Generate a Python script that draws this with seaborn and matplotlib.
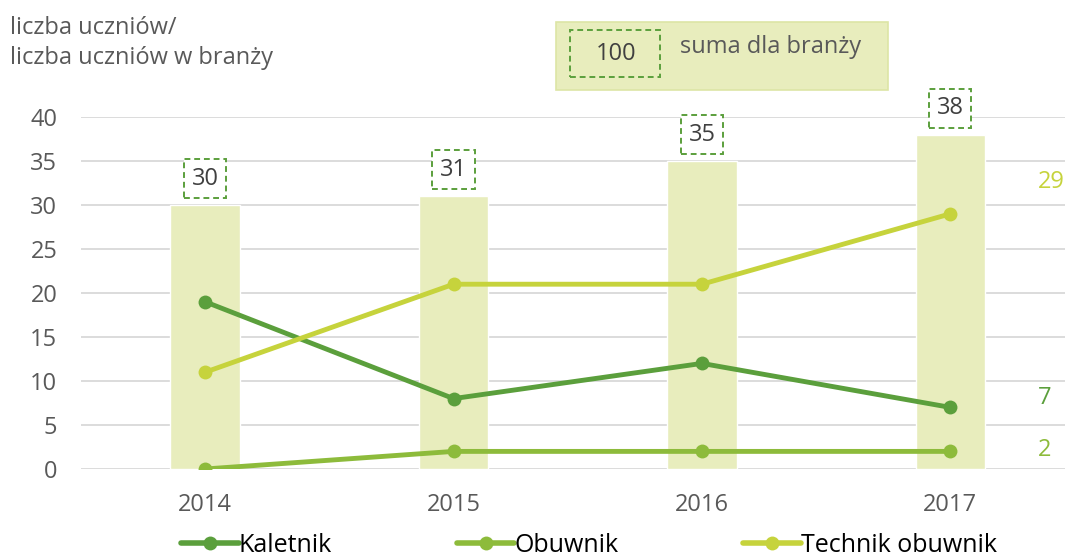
import pandas as pd
import matplotlib.pyplot as plt
import seaborn as sns
from matplotlib.patches import Rectangle
from matplotlib.lines import Line2D

# dane
years = ['2014', '2015', '2016', '2017']
totals = [30, 31, 35, 38]
kaletnik = [19, 8, 12, 7]
obuwnik = [0, 2, 2, 2]
technik = [11, 21, 21, 29]

series_names = ['Kaletnik', 'Obuwnik', 'Technik obuwnik']
series_colors = ['#5b9f3c', '#8dbb3b', '#c6d33c']
bar_color = '#e8edbd'
text_color = '#595959'
FS = 17

sns.set_theme(style='white')
plt.rcParams['font.family'] = ['Open Sans', 'DejaVu Sans']

df_tot = pd.DataFrame({'Rok': years, 'Suma': totals})
df_lines = pd.DataFrame({
    'pos': list(range(len(years))) * 3,
    'Wartość': kaletnik + obuwnik + technik,
    'Zawód': sum([[n] * len(years) for n in series_names], []),
})

fig = plt.figure(figsize=(10.65, 5.58), dpi=100)
ax = fig.add_axes([0.076, 0.1595, 0.933, 0.6308])

sns.barplot(data=df_tot, x='Rok', y='Suma', color=bar_color, width=0.28,
            saturation=1, ax=ax, zorder=1)
sns.lineplot(data=df_lines, x='pos', y='Wartość', hue='Zawód',
             hue_order=series_names, palette=series_colors, marker='o',
             markersize=10, markeredgewidth=0, linewidth=3.5, ax=ax,
             legend=False, zorder=3)

ax.set_xlim(-0.5, 3.5)
ax.set_ylim(0, 40)
ax.set_yticks(range(0, 41, 5))
ax.grid(axis='y', color='#d9d9d9', linewidth=1.3, zorder=0)
ax.set_axisbelow(True)
for s in ax.spines.values():
    s.set_visible(False)
ax.set_xlabel('')
ax.set_ylabel('')
ax.set_xticks(range(len(years)))
ax.set_xticklabels(years)
ax.tick_params(axis='both', length=0, labelsize=FS, labelcolor=text_color)
ax.tick_params(axis='x', pad=17)
ax.tick_params(axis='y', pad=17)

# sumy nad słupkami
for i, t in enumerate(totals):
    ax.annotate(str(t), (i, t), xytext=(0, 19), textcoords='offset points',
                ha='center', va='center', fontsize=FS, color='#404040',
                bbox=dict(boxstyle='square,pad=0.32', fc='white',
                          ec='#5b9f3c', ls=(0, (3, 2)), lw=1.4))

# etykiety końcowe po prawej (przesunięcia jak w oryginale)
for vals, c, dy in zip([kaletnik, obuwnik, technik], series_colors, [7, 1, 23]):
    ax.annotate(str(vals[-1]), (3, vals[-1]), xytext=(63, dy),
                textcoords='offset points', ha='left', va='center',
                fontsize=FS, color=c, annotation_clip=False)

# tytuł osi
fig.text(0.009, 0.972, 'liczba uczniów/\nliczba uczniów w branży', ha='left',
         va='top', fontsize=FS, color=text_color, linespacing=1.35)

# objaśnienie sumy
fig.patches.append(Rectangle((556 / 1065, 1 - 90 / 558), 332 / 1065, 68 / 558,
                             transform=fig.transFigure, fc=bar_color,
                             ec='#dde5a6', lw=1.2))
fig.patches.append(Rectangle((570 / 1065, 1 - 77 / 558), 90 / 1065, 47 / 558,
                             transform=fig.transFigure, fc='none',
                             ec='#5b9f3c', ls=(0, (3, 2)), lw=1.4))
fig.text(616 / 1065, 1 - 54 / 558, '100', ha='center', va='center',
         fontsize=FS, color='#404040')
fig.text(680 / 1065, 1 - 47 / 558, 'suma dla branży', ha='left',
         va='center', fontsize=FS, color=text_color)

# legenda
handles = [Line2D([0], [0], color=c, lw=4, marker='o', markersize=10,
                  markeredgewidth=0) for c in series_colors]
fig.legend(handles, series_names, loc='center', bbox_to_anchor=(0.553, 0.023),
           ncol=3, frameon=False, handlelength=2.3, handletextpad=0.0,
           columnspacing=5.0, labelcolor='black', borderpad=0.1,
           prop={'family': ['Liberation Sans Narrow', 'Open Sans'], 'size': 18})

fig.savefig('out.png', dpi=100)
